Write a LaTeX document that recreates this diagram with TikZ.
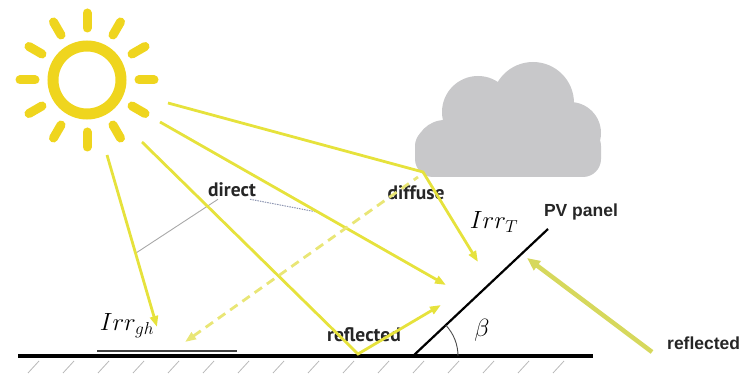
\documentclass[tikz,border=0pt]{standalone}
\usepackage{fontspec}
\newfontfamily\labelfont{PT Sans}
\newfontfamily\arialfont{Liberation Sans}
\usetikzlibrary{arrows.meta,calc,angles}

\definecolor{sunyellow}{HTML}{EFD51E}
\definecolor{rayyellow}{HTML}{E6E23C}
\definecolor{diffyellow}{HTML}{E9E676}
\definecolor{reflyellow}{HTML}{D6D85C}
\definecolor{cloudgray}{HTML}{C8C8CA}
\definecolor{leadgray}{HTML}{A8A8A8}
\definecolor{leadblue}{HTML}{8E96B2}

\begin{document}
\begin{tikzpicture}[x=1pt,y=-1pt,
  ray/.style={draw=rayyellow,line width=2.8pt,line join=miter},
  raytip/.style={-{Triangle[length=11pt,width=8pt]}},
  diffray/.style={draw=diffyellow,line width=2.8pt,dash pattern=on 9pt off 6pt,
    {Triangle[length=11pt,width=8pt]}-},
  backray/.style={draw=reflyellow,line width=4.5pt,
    {Triangle[length=13pt,width=11pt]}-},
  tag/.style={font=\labelfont\bfseries\fontsize{19.5}{22}\selectfont,text=black!85,inner sep=0pt},
  atag/.style={font=\arialfont\bfseries\fontsize{17.5}{20}\selectfont,text=black!85,inner sep=0pt},
  mathtag/.style={font=\fontsize{26}{30}\selectfont,inner sep=0pt},
  hatch/.style={draw=leadgray!80,line width=0.8pt},
]
\useasboundingbox (0,0) rectangle (742,379);

% --- the sun: ring and twelve rays ---
\coordinate (sun) at (87,80);
\draw[sunyellow,line width=11pt] (sun) circle[radius=34pt];
\foreach \a in {0,30,...,330}
  \draw[sunyellow,line width=9pt,line cap=round] ($(sun)+(\a:52pt)$) -- ($(sun)+(\a:67pt)$);

% --- the cloud ---
\begin{scope}
  \clip (400,40) rectangle (620,177);
  \fill[cloudgray,rounded corners=18pt] (415,128) rectangle (601,177);
  \fill[cloudgray] (445,150) circle[radius=30pt];
  \fill[cloudgray] (478,112) circle[radius=36pt];
  \fill[cloudgray] (533,103) circle[radius=41pt];
  \fill[cloudgray] (570,133) circle[radius=31pt];
\end{scope}

% --- ground with hatching ---
\coordinate (gl) at (18,356);
\coordinate (gr) at (593,356);
\foreach \x in {28,63,...,568}
  \draw[hatch] (\x,373) -- (\x+11,361);
\draw[line width=3.5pt] (gl) -- (gr);

% horizontal sensor plate
\coordinate (pl) at (97,351);
\coordinate (pr) at (237,351);
\draw[line width=2.5pt,black!75] (pl) -- (pr);

% tilted PV panel and its angle
\coordinate (pvfoot) at (413,356);
\coordinate (pvtop) at (548,229);
\draw[line width=2.2pt] (pvfoot) -- (pvtop);
\pic[draw=black!70,line width=0.9pt,angle radius=45pt] {angle=gr--pvfoot--pvtop};

% --- labels ---
\node[tag] (direct) at (232,190) {direct};
\node[tag] (diffuse) at (416,193) {diffuse};
\node[tag] (reflmid) at (364,335) {reflected};
\node[atag] (pv) at (581,212) {PV panel};
\node[atag,anchor=west] (reflright) at (667,343) {reflected};
\node[mathtag] (irrgh) at (127,326) {$Irr_{gh}$};
\node[mathtag] (irrT) at (494,222) {$Irr_T$};
\node[mathtag] (beta) at (482,330) {$\beta$};

% --- ray end points ---
\coordinate (r1s) at (107,155);
\coordinate (r1e) at (157,327);
\coordinate (r2s) at (142,142);
\coordinate (bounce) at (358,354);
\coordinate (r2e) at (441,305);
\coordinate (r3s) at (160,122);
\coordinate (r3e) at (446,285);
\coordinate (r4s) at (168,103);
\coordinate (cloudpt) at (423,172);
\coordinate (r4e) at (478,262);
\coordinate (dfs) at (418,177);
\coordinate (dfe) at (185,342);
\coordinate (brs) at (652,352);
\coordinate (bre) at (527,258);

% leader lines from the "direct" label
\coordinate (lead1) at (136,253);
\coordinate (lead2) at (317,212);
\draw[leadgray,line width=0.9pt] ($(direct.south west)+(10,2)$) -- (lead1);
\draw[leadblue,line width=1pt,dash pattern=on 1.5pt off 1pt] ($(direct.south east)+(-6,2)$) -- (lead2);

% --- radiation paths ---
\draw[ray,raytip] (r1s) -- (r1e);
\draw[ray,raytip] (r2s) -- (bounce) -- (r2e);
\draw[ray,raytip] (r3s) -- (r3e);
\draw[ray,raytip] (r4s) -- (cloudpt) -- (r4e);
\draw[diffray] (dfe) -- (dfs);
\draw[backray] (bre) -- (brs);

\end{tikzpicture}
\end{document}
